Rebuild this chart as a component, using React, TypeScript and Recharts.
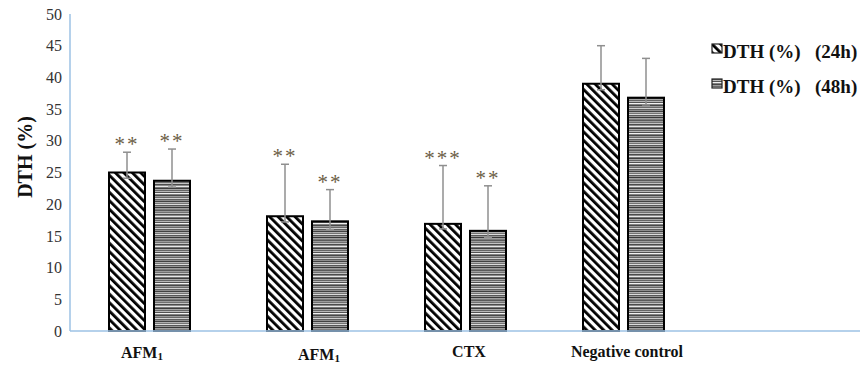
import React from 'react';
import { BarChart, Bar, XAxis, YAxis, ErrorBar } from 'recharts';

// values
const categories = ['AFM1', 'AFM1', 'CTX', 'Negative control', ''];
const dth24 = [25.0, 18.1, 16.9, 39.0, null];
const dth48 = [23.7, 17.3, 15.8, 36.8, null];
const err24Up = [3.2, 8.2, 9.2, 6.0, 0];
const err24Down = [0.9, 0.9, 0.8, 0.95, 0];
const err48Up = [5.0, 5.0, 7.1, 6.2, 0];
const err48Down = [1.0, 1.3, 1.05, 1.15, 0];
const stars24 = ['**', '**', '***', '', ''];
const stars48 = ['**', '**', '**', '', ''];
const yTicks = [0, 5, 10, 15, 20, 25, 30, 35, 40, 45, 50];
const legendLabels = ['DTH (%)', 'DTH (%)'];
const legendHours = ['(24h)', '(48h)'];

const data = categories.map((name, i) => ({
  name,
  dth24: dth24[i],
  dth48: dth48[i],
  err24: [err24Down[i], err24Up[i]],
  err48: [err48Down[i], err48Up[i]],
  stars24: stars24[i],
  stars48: stars48[i],
}));

const SERIF = 'Liberation Serif';
const AXIS_BLUE = '#9cc2e5';
const ERR_GREY = '#8f8f8f';
const STAR_COLOR = '#6b5d45';

// grey shades for the horizontal-line fill of the 48h bars
const greyLines = [
  '#5a5a5a', '#9c9c9c', '#707070', '#c4c4c4', '#4c4c4c', '#8a8a8a', '#e8e8e8', '#777777',
  '#3e3e3e', '#a6a6a6', '#666666', '#b8b8b8', '#525252', '#f2f2f2', '#828282', '#484848',
  '#9a9a9a', '#6a6a6a', '#d0d0d0', '#5e5e5e', '#8e8e8e', '#424242', '#b0b0b0', '#747474',
  '#dcdcdc', '#585858', '#969696', '#383838', '#a0a0a0', '#7c7c7c',
];

function Patterns() {
  return (
    <svg width={0} height={0} style={{ position: 'absolute' }}>
      <defs>
        <pattern id="diag" patternUnits="userSpaceOnUse" width={6} height={6} patternTransform="rotate(-45)">
          <rect x={0} y={0} width={6} height={6} fill="#fff" />
          <rect x={0} y={0} width={2.8} height={6} fill="#000" />
        </pattern>
        <pattern id="hlines" patternUnits="userSpaceOnUse" width={8} height={greyLines.length}>
          {greyLines.map((c, i) => (
            <rect key={i} x={0} y={i} width={8} height={1} fill={c} />
          ))}
        </pattern>
      </defs>
    </svg>
  );
}

const makeShape = (fill: string, valueKey: string, errKey: string, starKey: string) => (props: any) => {
  const { x, y, width, height, payload } = props;
  if (!payload || payload[valueKey] == null || !height) return null;
  const v = payload[valueKey];
  const up = payload[errKey][1];
  const errTop = y - (up * height) / v;
  return (
    <g>
      <rect x={x} y={y} width={width} height={height} fill={fill} stroke="#000" strokeWidth={2} />
      {payload[starKey] ? (
        <text
          x={x + width / 2}
          y={errTop - 1}
          textAnchor="middle"
          fontFamily={SERIF}
          fontSize={21}
          letterSpacing={2}
          fill={STAR_COLOR}
        >
          {payload[starKey]}
        </text>
      ) : null}
    </g>
  );
};

const labelOffsets = [
  { dx: -7, dy: 0 },
  { dx: 12, dy: 2 },
  { dx: 4, dy: -1 },
  { dx: 4, dy: -1 },
  { dx: 0, dy: 0 },
];

function CategoryTick(props: any) {
  const { x, y, payload, index } = props;
  const label: string = payload.value;
  if (!label) return null;
  const off = labelOffsets[index] || { dx: 0, dy: 0 };
  const sub = label.match(/^(.*?)(\d)$/);
  return (
    <text
      x={x + off.dx}
      y={y + 19 + off.dy}
      textAnchor="middle"
      fontFamily={SERIF}
      fontWeight="bold"
      fontSize={16}
      fill="#111"
    >
      {sub ? (
        <>
          <tspan>{sub[1]}</tspan>
          <tspan fontSize={11} dy={2}>{sub[2]}</tspan>
        </>
      ) : (
        label
      )}
    </text>
  );
}

function LegendBox() {
  const fills = ['url(#diag)', 'url(#hlines)'];
  return (
    <svg width={161} height={70} style={{ position: 'absolute', left: 700, top: 34 }}>
      {fills.map((fill, i) => (
        <g key={i} transform={`translate(0, ${i * 35})`}>
          <rect x={12} y={10} width={10} height={9} fill={fill} stroke="#222" strokeWidth={1.2} />
          <text x={23} y={24} fontFamily={SERIF} fontWeight="bold" fontSize={19} fill="#111">
            {legendLabels[i]}
          </text>
          <text x={115} y={24} fontFamily={SERIF} fontWeight="bold" fontSize={19} fill="#111">
            {legendHours[i]}
          </text>
        </g>
      ))}
    </svg>
  );
}

export default function App() {
  return (
    <div style={{ position: 'absolute', left: 0, top: 0, width: 861, height: 366, background: '#fff' }}>
      <Patterns />
      <BarChart
        width={861}
        height={366}
        data={data}
        margin={{ top: 14, right: 1, bottom: 0, left: 0 }}
        barCategoryGap={38}
        barGap={9}
      >
        <XAxis
          dataKey="name"
          height={35}
          tickLine={false}
          axisLine={{ stroke: AXIS_BLUE, strokeWidth: 1.5 }}
          tick={<CategoryTick />}
          interval={0}
        />
        <YAxis
          width={70}
          domain={[0, 50]}
          ticks={yTicks}
          interval={0}
          tickLine={false}
          tickMargin={2}
          axisLine={{ stroke: AXIS_BLUE, strokeWidth: 1.5 }}
          tick={{ fontFamily: SERIF, fontSize: 16, fill: '#333333' }}
          label={{
            content: () => (
              <text
                x={25}
                y={157}
                transform="rotate(-90, 25, 157)"
                textAnchor="middle"
                dominantBaseline="central"
                fontFamily={SERIF}
                fontWeight="bold"
                fontSize={20}
                fill="#111"
              >
                DTH (%)
              </text>
            ),
          }}
        />
        <Bar
          dataKey="dth24"
          name="DTH (%)   (24h)"
          barSize={36}
          fill="url(#diag)"
          shape={makeShape('url(#diag)', 'dth24', 'err24', 'stars24')}
          isAnimationActive={false}
        >
          <ErrorBar dataKey="err24" direction="y" width={4} stroke={ERR_GREY} strokeWidth={1.5} />
        </Bar>
        <Bar
          dataKey="dth48"
          name="DTH (%)   (48h)"
          barSize={36}
          fill="url(#hlines)"
          shape={makeShape('url(#hlines)', 'dth48', 'err48', 'stars48')}
          isAnimationActive={false}
        >
          <ErrorBar dataKey="err48" direction="y" width={4} stroke={ERR_GREY} strokeWidth={1.5} />
        </Bar>
      </BarChart>
      <LegendBox />
    </div>
  );
}
